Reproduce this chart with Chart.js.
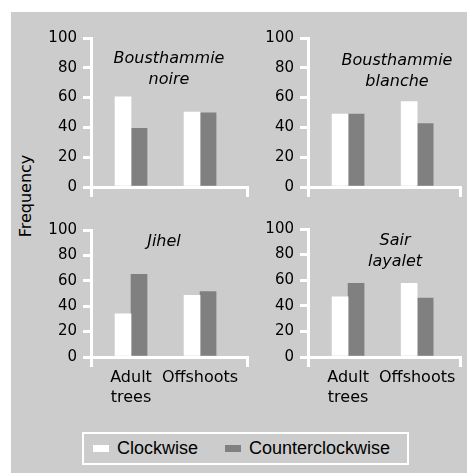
<!DOCTYPE html>
<html>
<head>
<meta charset="utf-8">
<script src="https://cdn.jsdelivr.net/npm/chart.js@4.4.1/dist/chart.umd.min.js"></script>
<style>
  body { margin: 0; background: #fff; }
  #page { position: relative; width: 467px; height: 473px; overflow: hidden; }
  #bg { position: absolute; left: 11px; top: 12px; right: 0; bottom: 0; background: #cccccc; }
  .panel { position: absolute; }
  #ytitle {
    position: absolute; left: 25px; top: 196px;
    transform: translate(-50%, -50%) rotate(-90deg);
    font: 16px "DejaVu Sans", sans-serif; color: #000; white-space: nowrap;
  }
  #legend {
    position: absolute; left: 82px; top: 432px; width: 323px; height: 29px;
    border: 2px solid #fff; display: flex; align-items: center;
    font: 18px "Liberation Sans", Arial, sans-serif; color: #000;
  }
  .sw { width: 16px; height: 7px; margin-right: 8px; }
</style>
</head>
<body>
<div id="page">
  <div id="bg"></div>
  <div id="ytitle">Frequency</div>
  <div class="panel" style="left:41px;top:23px;width:212px;height:179px"><canvas id="c0"></canvas></div>
  <div class="panel" style="left:258px;top:23px;width:208px;height:179px"><canvas id="c1"></canvas></div>
  <div class="panel" style="left:41px;top:215px;width:212px;height:200px"><canvas id="c2"></canvas></div>
  <div class="panel" style="left:258px;top:214px;width:208px;height:201px"><canvas id="c3"></canvas></div>
  <div id="legend"></div>
</div>
<script>
// data
var categories = ['Adult trees', 'Offshoots'];
var seriesNames = ['Clockwise', 'Counterclockwise'];
var seriesColors = ['#ffffff', '#808080'];
var panelNames = ['Bousthammie noire', 'Bousthammie blanche', 'Jihel', 'Sair layalet'];
var clockwise = [
    [60.5, 50.3],
    [49, 57.4],
    [34, 48.5],
    [47, 57.6]
];
var counterclockwise = [
    [39.4, 49.7],
    [49, 42.6],
    [65, 51.5],
    [57.6, 46]
];
var yTicks = [0, 20, 40, 60, 80, 100];

// per panel look (not data)
var panelStyle = [
    { showX: false, titleTop: 25, titleShift: 0 },
    { showX: false, titleTop: 27, titleShift: 13 },
    { showX: true, titleTop: 16, titleShift: -5 },
    { showX: true, titleTop: 16, titleShift: 11 }
];

var tickFont = { family: 'DejaVu Sans', size: 15 };
var labelFont = { family: 'DejaVu Sans', size: 16, lineHeight: 1.3 };

// species name written inside the plot area
var panelTitle = {
    id: 'panelTitle',
    afterDatasetsDraw: function (chart, args, opts) {
        var ctx = chart.ctx, a = chart.chartArea;
        var lines = opts.text.split(' ');
        ctx.save();
        ctx.font = 'italic 16px "DejaVu Sans"';
        ctx.fillStyle = '#000';
        ctx.textAlign = 'center';
        ctx.textBaseline = 'alphabetic';
        for (var i = 0; i < lines.length; i++) {
            ctx.fillText(lines[i], (a.left + a.right) / 2 + opts.shift, a.top + opts.top + i * 21);
        }
        ctx.restore();
    }
};

function points(vals) {
    return vals.map(function (v, i) { return { x: i, y: v }; });
}

function makePanel(k) {
    var st = panelStyle[k];
    new Chart(document.getElementById('c' + k), {
        type: 'bar',
        data: {
            datasets: [
                { label: seriesNames[0], data: points(clockwise[k]), backgroundColor: seriesColors[0], barThickness: 16 },
                { label: seriesNames[1], data: points(counterclockwise[k]), backgroundColor: seriesColors[1], barThickness: 16 }
            ]
        },
        options: {
            responsive: true,
            maintainAspectRatio: false,
            animation: false,
            layout: { padding: { top: 10, right: 6, bottom: 2, left: 0 } },
            plugins: {
                legend: { display: false },
                tooltip: { enabled: false },
                panelTitle: { text: panelNames[k], top: st.titleTop, shift: st.titleShift }
            },
            scales: {
                x: {
                    type: 'linear',
                    offset: false,
                    min: -0.58,
                    max: k % 2 ? 1.62 : 1.68,
                    // ticks only at the two ends, labels at the categories
                    afterBuildTicks: function (axis) {
                        axis.ticks = [axis.min, 0, 1, axis.max].map(function (v) { return { value: v }; });
                    },
                    afterFit: function (axis) { axis.height = st.showX ? 56 : 12; },
                    grid: {
                        offset: false,
                        drawOnChartArea: false,
                        tickLength: 10,
                        lineWidth: 3,
                        color: function (c) {
                            var v = c.tick ? c.tick.value : 0;
                            return (v === 0 || v === 1) ? 'rgba(0,0,0,0)' : '#ffffff';
                        }
                    },
                    border: { color: '#ffffff', width: 3 },
                    ticks: {
                        display: st.showX,
                        autoSkip: false,
                        maxRotation: 0,
                        padding: 0,
                        color: '#000',
                        font: labelFont,
                        callback: function (v) {
                            var c = categories[v];
                            return c === undefined || v !== Math.round(v) ? '' : c.split(' ');
                        }
                    }
                },
                y: {
                    min: 0,
                    max: 100,
                    afterBuildTicks: function (axis) {
                        axis.ticks = yTicks.map(function (v) { return { value: v }; });
                    },
                    afterFit: function (axis) { axis.width = 50; },
                    grid: { drawOnChartArea: false, tickLength: 8, lineWidth: 3, color: '#ffffff' },
                    border: { color: '#ffffff', width: 3 },
                    ticks: { padding: 6, color: '#000', font: tickFont }
                }
            }
        },
        plugins: [panelTitle]
    });
}

for (var k = 0; k < 4; k++) makePanel(k);

// legend
var lg = document.getElementById('legend');
seriesNames.forEach(function (name, i) {
    var sw = document.createElement('span');
    sw.className = 'sw';
    sw.style.background = seriesColors[i];
    sw.style.marginLeft = i === 0 ? '9px' : '27px';
    var t = document.createElement('span');
    t.textContent = name;
    lg.appendChild(sw);
    lg.appendChild(t);
});
</script>
</body>
</html>
